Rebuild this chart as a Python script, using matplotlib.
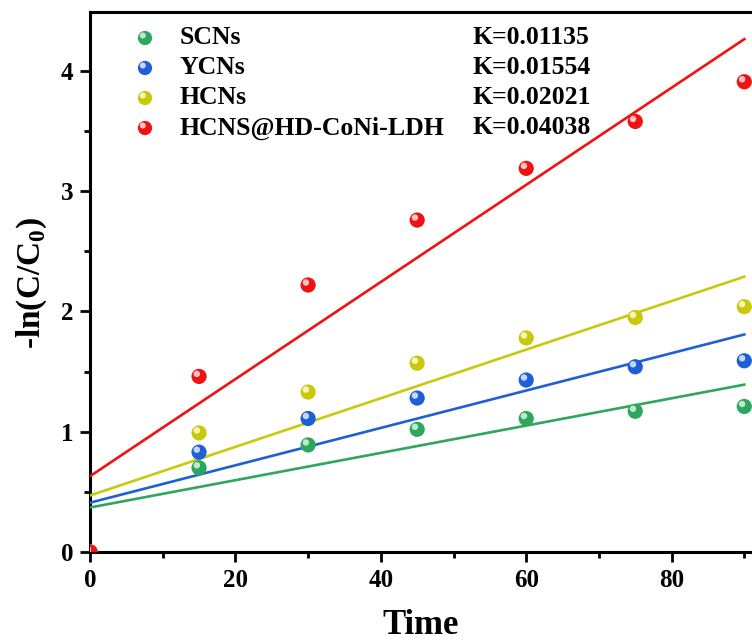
import matplotlib
matplotlib.use("Agg")
import matplotlib.pyplot as plt
import matplotlib.transforms as mtransforms
import numpy as np

# Reaction kinetics: -ln(C/C0) versus irradiation time
time = [0, 15, 30, 45, 60, 75, 90]
samples = ["SCNs", "YCNs", "HCNs", "HCNS@HD-CoNi-LDH"]
scns = [0, 0.70, 0.89, 1.02, 1.11, 1.17, 1.21]
ycns = [0, 0.83, 1.11, 1.28, 1.43, 1.54, 1.59]
hcns = [0, 0.99, 1.33, 1.57, 1.78, 1.95, 2.04]
hcns_ldh = [0, 1.46, 2.22, 2.76, 3.19, 3.58, 3.91]
rate_k = [0.01135, 0.01554, 0.02021, 0.04038]
intercepts = [0.37, 0.41, 0.47, 0.63]
k_labels = ["K=0.01135", "K=0.01554", "K=0.02021", "K=0.04038"]

colors = ["#2ea65e", "#1f5fd6", "#c9c90c", "#f01212"]
highlights = ["#bfe8cc", "#c4d8ff", "#f6f6b8", "#ffc4c4"]

plt.rcParams["font.family"] = ["Liberation Serif", "DejaVu Serif"]
plt.rcParams["font.weight"] = "bold"
plt.rcParams["mathtext.fontset"] = "custom"
plt.rcParams["mathtext.rm"] = "Liberation Serif"
plt.rcParams["mathtext.bf"] = "Liberation Serif:bold"

fig = plt.figure(figsize=(7.52, 6.41), dpi=100)
ax = fig.add_axes([90 / 752, 1 - 552 / 641, 727 / 752, 540 / 641])

series = [scns, ycns, hcns, hcns_ldh]
tfit = np.array([time[0], time[-1]])


def sphere(axis, x, y, color, hl, size, transform=None, z=5):
    tr = transform if transform is not None else axis.transData
    axis.scatter(x, y, s=size, color=color, edgecolors="none", zorder=z,
                 transform=tr, clip_on=transform is None)
    off = mtransforms.offset_copy(tr, fig=fig, x=-1.6, y=1.8, units="points")
    axis.scatter(x, y, s=size * 0.18, color=hl, edgecolors="none",
                 zorder=z + 0.1, transform=off, clip_on=transform is None)


for vals, k, b, c, h in zip(series, rate_k, intercepts, colors, highlights):
    ax.plot(tfit, b + k * tfit, color=c, lw=1.9, zorder=3)
    sphere(ax, time, vals, c, h, 120)

ax.set_xlim(0, 100)
ax.set_ylim(0, 4.49)
ax.set_xticks([0, 20, 40, 60, 80])
ax.set_yticks([0, 1, 2, 3, 4])
ax.set_xticks(np.arange(10, 100, 20), minor=True)
ax.set_yticks(np.arange(0.5, 4.5, 1), minor=True)
ax.tick_params(which="major", direction="out", length=7, width=2,
               labelsize=18, pad=5)
ax.tick_params(which="minor", direction="out", length=4, width=2)
for lab in ax.get_xticklabels() + ax.get_yticklabels():
    lab.set_fontweight("bold")
for sp in ax.spines.values():
    sp.set_linewidth(2.2)

ax.set_xlabel("Time", fontsize=25, fontweight="bold")
ax.set_ylabel(r"-ln(C/C$_\mathbf{0}$)", fontsize=24, fontweight="bold")
ax.xaxis.set_label_coords((421 - 90) / 727, -(609 - 552) / 540)
ax.yaxis.set_label_coords(-(90 - 49) / 727, (552 - 283) / 540)

# Legend rows with rate constants
rows_px = [38, 68, 98, 128]
for name, kl, c, h, ypx in zip(samples, k_labels, colors, highlights, rows_px):
    ya = (552 - ypx) / 540
    sphere(ax, [(145 - 90) / 727], [ya], c, h, 105, transform=ax.transAxes)
    ax.text((180 - 90) / 727, ya, name, transform=ax.transAxes, fontsize=18.5,
            fontweight="bold", va="center", ha="left")
    ax.text((472 - 90) / 727, ya, kl, transform=ax.transAxes, fontsize=18.5,
            fontweight="bold", va="center", ha="left")

fig.savefig("out.png", dpi=100, facecolor="white")
